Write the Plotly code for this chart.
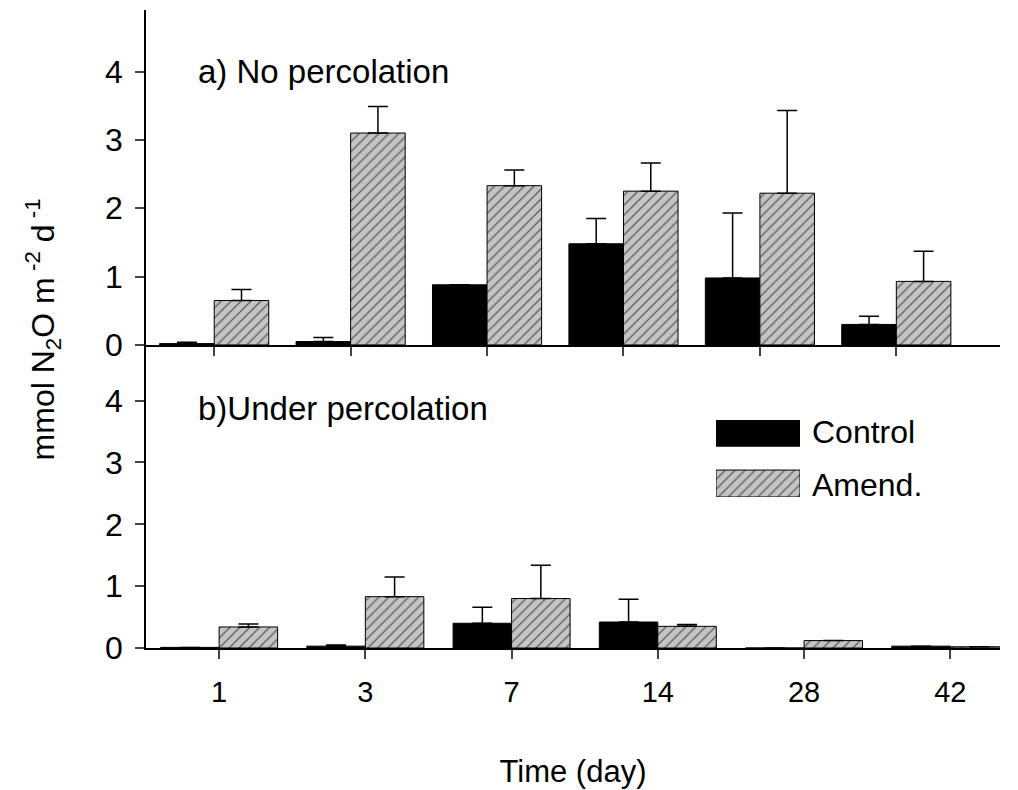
import plotly.graph_objects as go

days = ["1", "3", "7", "14", "28", "42"]
pos = list(range(len(days)))

# a) no percolation
ctrl_a = [0.02, 0.05, 0.88, 1.48, 0.98, 0.30]
ctrl_a_err = [0.02, 0.06, 0.0, 0.37, 0.95, 0.12]
amend_a = [0.65, 3.10, 2.33, 2.25, 2.22, 0.93]
amend_a_err = [0.16, 0.39, 0.23, 0.41, 1.21, 0.44]

# b) under percolation
ctrl_b = [0.01, 0.03, 0.40, 0.42, 0.0, 0.03]
ctrl_b_err = [0.0, 0.02, 0.26, 0.37, 0.0, 0.0]
amend_b = [0.34, 0.83, 0.80, 0.35, 0.12, 0.02]
amend_b_err = [0.05, 0.32, 0.54, 0.03, 0.0, 0.0]

FONT = "Liberation Sans"
GREY = "#c4c4c4"
HATCH = dict(shape="/", bgcolor=GREY, fgcolor="black", size=7, solidity=0.2)

fig = go.Figure()

def add_pair(c, ce, a, ae, xa, ya):
    fig.add_trace(go.Bar(
        x=pos, y=c, name="Control", showlegend=False, xaxis=xa, yaxis=ya,
        offset=-0.4, width=0.4,
        marker=dict(color="black", line=dict(color="black", width=1)),
        error_y=dict(type="data", array=ce, arrayminus=[0] * len(ce), symmetric=False,
                     color="black", thickness=1.5, width=10)))
    fig.add_trace(go.Bar(
        x=pos, y=a, name="Amend.", showlegend=False, xaxis=xa, yaxis=ya,
        offset=0.0, width=0.4,
        marker=dict(color=GREY, pattern=HATCH, line=dict(color="black", width=1)),
        error_y=dict(type="data", array=ae, arrayminus=[0] * len(ae), symmetric=False,
                     color="black", thickness=1.5, width=10)))

add_pair(ctrl_a, ctrl_a_err, amend_a, amend_a_err, "x2", "y2")
add_pair(ctrl_b, ctrl_b_err, amend_b, amend_b_err, "x", "y")

# legend boxes on a small hidden axis pair placed where the key sits
fig.add_trace(go.Scatter(x=[0, 1, 1, 0, 0], y=[1, 1, 0.66, 0.66, 1],
                         fill="toself", fillcolor="black", mode="lines",
                         line=dict(color="black", width=1), xaxis="x3", yaxis="y3",
                         showlegend=False, hoverinfo="skip", cliponaxis=False))
fig.add_trace(go.Scatter(x=[0, 1, 1, 0, 0], y=[0.35, 0.35, 0, 0, 0.35],
                         fill="toself", fillcolor=GREY, fillpattern=HATCH, mode="lines",
                         line=dict(color="black", width=1), xaxis="x3", yaxis="y3",
                         showlegend=False, hoverinfo="skip", cliponaxis=False))

yax = dict(range=[0, 4.9], tickvals=[0, 1, 2, 3, 4], ticks="outside", ticklen=9,
           tickwidth=1.5, showline=True, linecolor="black", linewidth=1.5,
           showgrid=False, zeroline=False, tickfont=dict(size=32),
           ticklabelstandoff=6, automargin=False)

fig.update_layout(
    width=1018, height=790,
    margin=dict(l=138, r=26, t=2, b=150, autoexpand=False),
    plot_bgcolor="rgba(0,0,0,0)", paper_bgcolor="white",
    font=dict(family=FONT, size=28, color="black"),
    showlegend=False,
    xaxis=dict(domain=[0, 1], anchor="y", range=[-0.5, 5.34], tickvals=pos,
               ticktext=days, ticks="outside", ticklen=9, tickwidth=1.5,
               showline=True, linecolor="black", linewidth=1.5, showgrid=False,
               zeroline=False, tickfont=dict(size=29), ticklabelstandoff=8,
               automargin=False,
               title=dict(text="Time (day)", font=dict(size=31), standoff=54)),
    xaxis2=dict(domain=[0, 1], anchor="y2", range=[-0.5, 5.76], tickvals=pos,
                showticklabels=False, ticks="outside", ticklen=9, tickwidth=1.5,
                showline=True, linecolor="black", linewidth=1.5, showgrid=False,
                zeroline=False, automargin=False),
    xaxis3=dict(domain=[(716 - 146) / 854, (800 - 146) / 854], anchor="y3",
                range=[0, 1], visible=False),
    yaxis=dict(domain=[0, 0.475], anchor="x", **yax),
    yaxis2=dict(domain=[0.475, 1], anchor="x2", **yax),
    yaxis3=dict(domain=[(648 - 497) / 638, (648 - 420) / 638], anchor="x3",
                range=[0, 1], visible=False),
    annotations=[
        dict(text="a) No percolation", xref="paper", yref="paper", x=0.058, y=0.935,
             showarrow=False, xanchor="left", font=dict(size=33)),
        dict(text="b)Under percolation", xref="paper", yref="paper", x=0.058, y=0.375,
             showarrow=False, xanchor="left", font=dict(size=33)),
        dict(text="Control", xref="paper", yref="paper", x=0.777, y=0.339,
             showarrow=False, xanchor="left", yanchor="middle", font=dict(size=32)),
        dict(text="Amend.", xref="paper", yref="paper", x=0.777, y=0.255,
             showarrow=False, xanchor="left", yanchor="middle", font=dict(size=32)),
        dict(text="mmol N<sub>2</sub>O m<sup> -2</sup> d<sup> -1</sup>", xref="paper", yref="paper",
             x=-0.15, y=0.5, textangle=-90, showarrow=False, font=dict(size=32)),
    ],
)

fig.write_html("out.html")
